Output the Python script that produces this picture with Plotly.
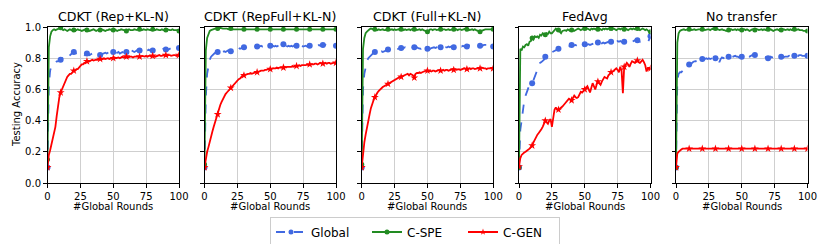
import plotly.graph_objects as go

rounds = list(range(101))
titles = ["CDKT (Rep+KL-N)", "CDKT (RepFull+KL-N)", "CDKT (Full+KL-N)", "FedAvg", "No transfer"]
series_names = ["Global", "C-SPE", "C-GEN"]
x_ticks = [0, 25, 50, 75, 100]
y_ticks = [0.0, 0.2, 0.4, 0.6, 0.8, 1.0]

# ---- CDKT (Rep+KL-N)
global_rep = [0.10, 0.62, 0.72, 0.75, 0.76, 0.77, 0.77, 0.78, 0.78, 0.79,
              0.79, 0.80, 0.80, 0.80, 0.81, 0.80, 0.81, 0.82, 0.83, 0.835,
              0.84, 0.835, 0.83, 0.82, 0.82, 0.825, 0.83, 0.83, 0.82, 0.825,
              0.83, 0.825, 0.82, 0.825, 0.83, 0.825, 0.82, 0.82, 0.825, 0.82,
              0.82, 0.825, 0.83, 0.83, 0.835, 0.83, 0.835, 0.84, 0.835, 0.84,
              0.84, 0.835, 0.83, 0.835, 0.84, 0.83, 0.835, 0.84, 0.835, 0.84,
              0.84, 0.845, 0.84, 0.845, 0.85, 0.845, 0.84, 0.845, 0.85, 0.845,
              0.85, 0.845, 0.85, 0.855, 0.85, 0.845, 0.85, 0.855, 0.85, 0.845,
              0.85, 0.855, 0.85, 0.855, 0.86, 0.855, 0.85, 0.855, 0.86, 0.855,
              0.855, 0.86, 0.855, 0.86, 0.865, 0.86, 0.865, 0.87, 0.865, 0.865,
              0.865]
spe_rep = [0.15, 0.87, 0.94, 0.97, 0.98, 0.985, 0.98, 0.985, 0.99, 0.99,
           0.995, 0.985, 0.98, 0.985, 0.98, 0.975, 0.98, 0.985, 0.98, 0.98,
           0.98, 0.975, 0.98, 0.985, 0.98, 0.98, 0.975, 0.98, 0.98, 0.985,
           0.98, 0.98, 0.975, 0.98, 0.98, 0.985, 0.98, 0.975, 0.98, 0.98,
           0.98, 0.985, 0.98, 0.98, 0.975, 0.98, 0.98, 0.985, 0.98, 0.98,
           0.98, 0.985, 0.98, 0.975, 0.98, 0.98, 0.985, 0.98, 0.98, 0.98,
           0.975, 0.98, 0.985, 0.98, 0.98, 0.98, 0.985, 0.98, 0.98, 0.985,
           0.985, 0.98, 0.98, 0.985, 0.98, 0.98, 0.985, 0.98, 0.98, 0.98,
           0.985, 0.98, 0.98, 0.985, 0.98, 0.98, 0.98, 0.985, 0.98, 0.98,
           0.98, 0.985, 0.98, 0.98, 0.98, 0.985, 0.98, 0.98, 0.98, 0.98,
           0.975]
gen_rep = [0.10, 0.18, 0.21, 0.25, 0.29, 0.31, 0.36, 0.43, 0.50, 0.55,
           0.58, 0.60, 0.63, 0.65, 0.67, 0.68, 0.69, 0.70, 0.70, 0.71,
           0.72, 0.72, 0.73, 0.73, 0.74, 0.75, 0.76, 0.76, 0.77, 0.77,
           0.78, 0.78, 0.78, 0.785, 0.79, 0.785, 0.79, 0.79, 0.79, 0.795,
           0.795, 0.79, 0.795, 0.80, 0.795, 0.80, 0.80, 0.795, 0.80, 0.80,
           0.80, 0.805, 0.80, 0.805, 0.805, 0.80, 0.805, 0.81, 0.805, 0.81,
           0.81, 0.805, 0.81, 0.81, 0.81, 0.805, 0.81, 0.81, 0.81, 0.81,
           0.81, 0.81, 0.815, 0.81, 0.81, 0.815, 0.81, 0.815, 0.815, 0.81,
           0.815, 0.815, 0.81, 0.815, 0.815, 0.82, 0.815, 0.815, 0.82, 0.815,
           0.82, 0.815, 0.82, 0.82, 0.815, 0.82, 0.82, 0.82, 0.815, 0.82,
           0.82]

# ---- CDKT (RepFull+KL-N)
global_repfull = [0.10, 0.55, 0.70, 0.76, 0.79, 0.81, 0.82, 0.83, 0.835, 0.84,
                  0.84, 0.845, 0.84, 0.835, 0.84, 0.845, 0.84, 0.845, 0.85, 0.845,
                  0.845, 0.85, 0.855, 0.85, 0.855, 0.86, 0.865, 0.86, 0.865, 0.87,
                  0.87, 0.865, 0.87, 0.875, 0.87, 0.87, 0.875, 0.87, 0.875, 0.875,
                  0.875, 0.87, 0.875, 0.88, 0.875, 0.875, 0.88, 0.875, 0.88, 0.875,
                  0.88, 0.875, 0.88, 0.875, 0.88, 0.875, 0.88, 0.885, 0.88, 0.885,
                  0.89, 0.885, 0.88, 0.875, 0.88, 0.875, 0.88, 0.875, 0.88, 0.88,
                  0.88, 0.875, 0.88, 0.875, 0.88, 0.875, 0.88, 0.88, 0.875, 0.88,
                  0.88, 0.875, 0.88, 0.875, 0.88, 0.875, 0.88, 0.885, 0.88, 0.885,
                  0.885, 0.88, 0.885, 0.88, 0.875, 0.88, 0.88, 0.885, 0.88, 0.88,
                  0.88]
spe_repfull = [0.12, 0.85, 0.93, 0.96, 0.975, 0.98, 0.985, 0.985, 0.99, 0.99,
               0.99, 0.99, 0.995, 0.99, 0.99, 0.99, 0.99, 0.99, 0.985, 0.99,
               0.99, 0.985, 0.985, 0.985, 0.985, 0.985, 0.985, 0.985, 0.985, 0.985,
               0.985, 0.985, 0.985, 0.985, 0.985, 0.985, 0.985, 0.985, 0.985, 0.985,
               0.985, 0.985, 0.985, 0.985, 0.985, 0.985, 0.985, 0.985, 0.985, 0.985,
               0.985, 0.985, 0.985, 0.985, 0.985, 0.985, 0.985, 0.985, 0.985, 0.985,
               0.985, 0.985, 0.985, 0.985, 0.985, 0.985, 0.985, 0.985, 0.985, 0.985,
               0.985, 0.985, 0.985, 0.985, 0.985, 0.985, 0.985, 0.985, 0.985, 0.985,
               0.985, 0.985, 0.985, 0.985, 0.985, 0.985, 0.985, 0.985, 0.985, 0.985,
               0.985, 0.985, 0.985, 0.985, 0.985, 0.985, 0.985, 0.985, 0.985, 0.985,
               0.985]
gen_repfull = [0.10, 0.17, 0.20, 0.23, 0.27, 0.30, 0.33, 0.36, 0.39, 0.42,
               0.44, 0.47, 0.50, 0.52, 0.54, 0.55, 0.57, 0.58, 0.59, 0.60,
               0.61, 0.62, 0.63, 0.64, 0.65, 0.66, 0.665, 0.67, 0.68, 0.69,
               0.69, 0.695, 0.695, 0.70, 0.70, 0.705, 0.70, 0.705, 0.71, 0.71,
               0.71, 0.715, 0.715, 0.72, 0.72, 0.72, 0.725, 0.725, 0.73, 0.73,
               0.73, 0.73, 0.735, 0.735, 0.735, 0.74, 0.735, 0.74, 0.74, 0.74,
               0.74, 0.745, 0.74, 0.745, 0.745, 0.745, 0.745, 0.75, 0.745, 0.75,
               0.75, 0.75, 0.755, 0.75, 0.755, 0.755, 0.755, 0.755, 0.76, 0.755,
               0.76, 0.76, 0.76, 0.76, 0.765, 0.765, 0.76, 0.765, 0.77, 0.765,
               0.765, 0.765, 0.77, 0.765, 0.77, 0.77, 0.765, 0.77, 0.77, 0.77,
               0.77]

# ---- CDKT (Full+KL-N)
global_full = [0.10, 0.60, 0.70, 0.75, 0.78, 0.80, 0.81, 0.82, 0.83, 0.835,
               0.84, 0.84, 0.845, 0.84, 0.845, 0.845, 0.84, 0.845, 0.85, 0.855,
               0.855, 0.85, 0.855, 0.85, 0.845, 0.85, 0.855, 0.86, 0.86, 0.865,
               0.865, 0.86, 0.865, 0.87, 0.865, 0.87, 0.865, 0.87, 0.875, 0.87,
               0.87, 0.865, 0.87, 0.865, 0.86, 0.86, 0.865, 0.86, 0.865, 0.86,
               0.86, 0.865, 0.86, 0.865, 0.87, 0.87, 0.865, 0.87, 0.865, 0.87,
               0.87, 0.875, 0.87, 0.865, 0.87, 0.87, 0.875, 0.87, 0.875, 0.87,
               0.87, 0.865, 0.87, 0.875, 0.88, 0.88, 0.875, 0.88, 0.875, 0.875,
               0.875, 0.88, 0.885, 0.885, 0.89, 0.89, 0.885, 0.88, 0.885, 0.88,
               0.88, 0.885, 0.88, 0.885, 0.885, 0.885, 0.88, 0.885, 0.88, 0.875,
               0.875]
spe_full = [0.12, 0.86, 0.93, 0.96, 0.97, 0.98, 0.985, 0.99, 0.985, 0.985,
            0.985, 0.985, 0.98, 0.985, 0.98, 0.985, 0.985, 0.98, 0.98, 0.985,
            0.985, 0.98, 0.985, 0.985, 0.98, 0.985, 0.98, 0.985, 0.985, 0.98,
            0.985, 0.985, 0.98, 0.985, 0.98, 0.985, 0.985, 0.98, 0.985, 0.98,
            0.985, 0.985, 0.98, 0.985, 0.985, 0.98, 0.985, 0.98, 0.975, 0.97,
            0.97, 0.975, 0.985, 0.985, 0.98, 0.985, 0.985, 0.98, 0.985, 0.985,
            0.985, 0.98, 0.985, 0.985, 0.98, 0.985, 0.985, 0.98, 0.985, 0.985,
            0.985, 0.98, 0.985, 0.98, 0.985, 0.985, 0.98, 0.985, 0.985, 0.99,
            0.985, 0.985, 0.98, 0.985, 0.985, 0.98, 0.985, 0.98, 0.975, 0.97,
            0.97, 0.975, 0.98, 0.985, 0.985, 0.985, 0.985, 0.985, 0.985, 0.985,
            0.985]
gen_full = [0.10, 0.20, 0.26, 0.31, 0.36, 0.40, 0.44, 0.48, 0.51, 0.53,
            0.55, 0.57, 0.58, 0.59, 0.60, 0.61, 0.615, 0.62, 0.625, 0.63,
            0.635, 0.64, 0.65, 0.655, 0.66, 0.665, 0.67, 0.67, 0.675, 0.68,
            0.68, 0.685, 0.69, 0.69, 0.695, 0.70, 0.69, 0.70, 0.695, 0.69,
            0.675, 0.70, 0.705, 0.705, 0.71, 0.705, 0.71, 0.715, 0.715, 0.72,
            0.72, 0.715, 0.72, 0.715, 0.72, 0.72, 0.715, 0.72, 0.72, 0.725,
            0.72, 0.72, 0.725, 0.72, 0.725, 0.725, 0.72, 0.725, 0.725, 0.73,
            0.725, 0.73, 0.725, 0.73, 0.73, 0.725, 0.73, 0.73, 0.735, 0.73,
            0.73, 0.73, 0.735, 0.73, 0.735, 0.735, 0.73, 0.735, 0.735, 0.735,
            0.735, 0.74, 0.735, 0.735, 0.735, 0.73, 0.735, 0.735, 0.735, 0.735,
            0.735]

# ---- FedAvg
global_fedavg = [0.10, 0.34, 0.40, 0.47, 0.53, 0.56, 0.585, 0.61, 0.63, 0.635,
                 0.64, 0.66, 0.68, 0.70, 0.72, 0.745, 0.77, 0.775, 0.78, 0.79,
                 0.81, 0.82, 0.83, 0.83, 0.835, 0.84, 0.845, 0.845, 0.85, 0.855,
                 0.86, 0.86, 0.865, 0.865, 0.87, 0.875, 0.875, 0.87, 0.875, 0.88,
                 0.885, 0.88, 0.885, 0.885, 0.88, 0.885, 0.885, 0.89, 0.885, 0.89,
                 0.89, 0.885, 0.89, 0.89, 0.885, 0.89, 0.89, 0.895, 0.89, 0.895,
                 0.90, 0.895, 0.89, 0.895, 0.9, 0.895, 0.9, 0.9, 0.905, 0.9,
                 0.905, 0.9, 0.905, 0.91, 0.905, 0.91, 0.905, 0.91, 0.905, 0.9,
                 0.905, 0.905, 0.91, 0.905, 0.91, 0.91, 0.905, 0.91, 0.915, 0.91,
                 0.915, 0.91, 0.905, 0.91, 0.905, 0.905, 0.9, 0.905, 0.905, 0.92,
                 0.94]
spe_fedavg = [0.10, 0.86, 0.85, 0.875, 0.87, 0.885, 0.89, 0.88, 0.905, 0.91,
              0.93, 0.92, 0.94, 0.935, 0.94, 0.93, 0.95, 0.945, 0.96, 0.955,
              0.95, 0.96, 0.955, 0.97, 0.96, 0.96, 0.97, 0.975, 0.99, 0.98,
              0.98, 0.97, 0.96, 0.975, 0.98, 0.98, 0.975, 0.985, 0.98, 0.975,
              0.98, 0.985, 0.975, 0.98, 0.985, 0.99, 0.985, 0.98, 0.985, 0.99,
              0.99, 0.985, 0.99, 0.985, 0.98, 0.99, 0.985, 0.99, 0.985, 0.99,
              0.985, 0.99, 0.985, 0.98, 0.99, 0.985, 0.99, 0.985, 0.99, 0.985,
              0.99, 0.985, 0.99, 0.985, 0.98, 0.985, 0.99, 0.985, 0.99, 0.985,
              0.985, 0.99, 0.985, 0.98, 0.985, 0.99, 0.985, 0.99, 0.985, 0.99,
              0.99, 0.985, 0.98, 0.985, 0.99, 0.985, 0.98, 0.985, 0.975, 0.97,
              0.97]
gen_fedavg = [0.105, 0.16, 0.18, 0.19, 0.195, 0.20, 0.205, 0.21, 0.22, 0.23,
              0.24, 0.26, 0.28, 0.30, 0.31, 0.32, 0.33, 0.345, 0.36, 0.38,
              0.40, 0.39, 0.38, 0.40, 0.41, 0.36, 0.42, 0.47, 0.485, 0.47,
              0.47, 0.475, 0.485, 0.49, 0.50, 0.51, 0.52, 0.53, 0.54, 0.535,
              0.53, 0.545, 0.56, 0.55, 0.545, 0.55, 0.565, 0.585, 0.58, 0.59,
              0.60, 0.61, 0.62, 0.60, 0.58, 0.61, 0.64, 0.62, 0.60, 0.63,
              0.65, 0.64, 0.63, 0.65, 0.67, 0.68, 0.675, 0.67, 0.69, 0.70,
              0.71, 0.715, 0.72, 0.73, 0.735, 0.725, 0.71, 0.745, 0.72, 0.575,
              0.745, 0.755, 0.77, 0.76, 0.745, 0.765, 0.78, 0.775, 0.77, 0.78,
              0.785, 0.775, 0.77, 0.78, 0.79, 0.775, 0.755, 0.715, 0.735, 0.73,
              0.735]

# ---- No transfer
global_notransfer = [0.10, 0.66, 0.70, 0.71, 0.71, 0.72, 0.73, 0.74, 0.745, 0.75,
                     0.76, 0.76, 0.77, 0.775, 0.78, 0.78, 0.79, 0.785, 0.79, 0.79,
                     0.795, 0.79, 0.795, 0.80, 0.795, 0.80, 0.795, 0.80, 0.80, 0.805,
                     0.80, 0.80, 0.79, 0.775, 0.795, 0.805, 0.80, 0.805, 0.81, 0.805,
                     0.81, 0.81, 0.805, 0.81, 0.81, 0.815, 0.81, 0.81, 0.805, 0.81,
                     0.81, 0.81, 0.815, 0.81, 0.815, 0.815, 0.81, 0.815, 0.82, 0.815,
                     0.82, 0.815, 0.81, 0.815, 0.81, 0.81, 0.805, 0.81, 0.805, 0.80,
                     0.80, 0.805, 0.81, 0.805, 0.81, 0.81, 0.805, 0.81, 0.805, 0.81,
                     0.81, 0.805, 0.81, 0.81, 0.81, 0.81, 0.815, 0.81, 0.815, 0.81,
                     0.815, 0.815, 0.82, 0.815, 0.82, 0.82, 0.815, 0.815, 0.815, 0.815,
                     0.815]
spe_notransfer = [0.10, 0.90, 0.96, 0.975, 0.98, 0.985, 0.985, 0.98, 0.985, 0.985,
                  0.985, 0.985, 0.98, 0.985, 0.985, 0.98, 0.985, 0.985, 0.985, 0.98,
                  0.985, 0.985, 0.98, 0.985, 0.985, 0.985, 0.98, 0.985, 0.99, 0.985,
                  0.99, 0.985, 0.985, 0.98, 0.985, 0.985, 0.98, 0.98, 0.975, 0.975,
                  0.98, 0.985, 0.985, 0.98, 0.985, 0.985, 0.98, 0.985, 0.98, 0.985,
                  0.98, 0.985, 0.985, 0.98, 0.985, 0.98, 0.975, 0.98, 0.985, 0.98,
                  0.98, 0.985, 0.985, 0.98, 0.985, 0.985, 0.98, 0.985, 0.98, 0.985,
                  0.985, 0.98, 0.985, 0.98, 0.975, 0.98, 0.985, 0.985, 0.98, 0.985,
                  0.98, 0.985, 0.985, 0.98, 0.985, 0.985, 0.98, 0.985, 0.98, 0.985,
                  0.985, 0.98, 0.985, 0.985, 0.98, 0.98, 0.98, 0.975, 0.975, 0.975,
                  0.975]
gen_notransfer = [0.10, 0.19, 0.20, 0.21, 0.215, 0.22, 0.22, 0.22, 0.22, 0.22,
                  0.22, 0.22, 0.22, 0.22, 0.22, 0.22, 0.22, 0.22, 0.22, 0.22,
                  0.22, 0.22, 0.22, 0.22, 0.22, 0.22, 0.22, 0.22, 0.22, 0.22,
                  0.22, 0.22, 0.22, 0.22, 0.22, 0.22, 0.22, 0.22, 0.22, 0.22,
                  0.22, 0.22, 0.22, 0.22, 0.22, 0.22, 0.22, 0.22, 0.22, 0.22,
                  0.22, 0.22, 0.22, 0.22, 0.22, 0.22, 0.22, 0.22, 0.22, 0.22,
                  0.22, 0.22, 0.22, 0.22, 0.22, 0.22, 0.22, 0.22, 0.22, 0.22,
                  0.22, 0.22, 0.22, 0.22, 0.22, 0.22, 0.22, 0.22, 0.22, 0.22,
                  0.22, 0.22, 0.22, 0.22, 0.22, 0.22, 0.22, 0.22, 0.22, 0.22,
                  0.22, 0.22, 0.22, 0.22, 0.22, 0.22, 0.22, 0.22, 0.22, 0.22,
                  0.22]

panels = [
    (global_rep, spe_rep, gen_rep),
    (global_repfull, spe_repfull, gen_repfull),
    (global_full, spe_full, gen_full),
    (global_fedavg, spe_fedavg, gen_fedavg),
    (global_notransfer, spe_notransfer, gen_notransfer),
]

W, H = 830, 244
FONT = "DejaVu Sans"
colors = ["#4169E1", "#228B22", "#FF0000"]
dashes = ["dash", "solid", "solid"]
symbols = ["circle", "circle", "star"]
msizes = [6, 5, 6]
lwidths = [1.8, 1.8, 1.8]

left_px = [47.5, 204.5, 361.7, 519.0, 676.0]
panel_w = 131.5
top_px, bot_px = 27.0, 183.0

fig = go.Figure()
for i, series in enumerate(panels):
    xa = "x" if i == 0 else f"x{i+1}"
    ya = "y" if i == 0 else f"y{i+1}"
    for k, vals in enumerate(series):
        fig.add_trace(go.Scatter(
            x=rounds, y=vals, mode="lines", xaxis=xa, yaxis=ya,
            line=dict(color=colors[k], width=lwidths[k], dash=dashes[k]),
            showlegend=False, hoverinfo="skip"))
        fig.add_trace(go.Scatter(
            x=rounds[::10], y=vals[::10], mode="markers", xaxis=xa, yaxis=ya,
            marker=dict(color=colors[k], size=msizes[k], symbol=symbols[k], line=dict(width=0)),
            showlegend=False, hoverinfo="skip"))

for k, name in enumerate(series_names):
    fig.add_trace(go.Scatter(
        x=[None], y=[None], mode="lines+markers", name=name,
        line=dict(color=colors[k], width=lwidths[k], dash=dashes[k]),
        marker=dict(color=colors[k], size=5, symbol=symbols[k])))

layout = dict(
    width=W, height=H, margin=dict(l=0, r=0, t=0, b=0, autoexpand=False),
    paper_bgcolor="white", plot_bgcolor="white",
    font=dict(family=FONT, size=10, color="black"),
    showlegend=True,
    legend=dict(orientation="h", x=0.5, xanchor="center", y=1 - 216.5 / H, yanchor="top",
                bordercolor="#cccccc", borderwidth=1, font=dict(size=12, family=FONT),
                itemwidth=30, tracegroupgap=0, entrywidth=51, entrywidthmode="pixels"),
)
annotations = []
for i in range(5):
    xk = "xaxis" if i == 0 else f"xaxis{i+1}"
    yk = "yaxis" if i == 0 else f"yaxis{i+1}"
    d0 = left_px[i] / W
    d1 = (left_px[i] + panel_w) / W
    layout[xk] = dict(
        domain=[d0, d1], range=[0, 100], tickvals=x_ticks, ticks="outside", ticklen=3.5,
        tickcolor="black", showgrid=True, gridcolor="#cfcfcf", gridwidth=1,
        showline=True, linecolor="black", linewidth=1, mirror=True, zeroline=False,
        anchor="y" if i == 0 else f"y{i+1}", tickfont=dict(size=10))
    layout[yk] = dict(
        domain=[1 - bot_px / H, 1 - top_px / H], range=[0, 1], tickvals=y_ticks,
        ticktext=[f"{v:.1f}" for v in y_ticks], showticklabels=(i == 0),
        ticks="outside", ticklen=3.5, tickcolor="black",
        showgrid=True, gridcolor="#cfcfcf", gridwidth=1,
        showline=True, linecolor="black", linewidth=1, mirror=True, zeroline=False,
        anchor="x" if i == 0 else f"x{i+1}", tickfont=dict(size=10))
    annotations.append(dict(
        text=titles[i], x=(d0 + d1) / 2, y=1 - 16.5 / H, xref="paper", yref="paper",
        xanchor="center", yanchor="middle", showarrow=False, font=dict(size=12.6)))
    annotations.append(dict(
        text="#Global Rounds", x=(d0 + d1) / 2, y=1 - 206 / H, xref="paper", yref="paper",
        xanchor="center", yanchor="middle", showarrow=False, font=dict(size=10)))
annotations.append(dict(
    text="Testing Accuracy", x=16 / W, y=1 - 105 / H, xref="paper", yref="paper",
    xanchor="center", yanchor="middle", showarrow=False, textangle=-90, font=dict(size=10)))
layout["annotations"] = annotations
fig.update_layout(**layout)
fig.write_html("out.html", config={"displayModeBar": False},
               post_script="document.body.style.margin='0';document.body.style.overflow='hidden';")
